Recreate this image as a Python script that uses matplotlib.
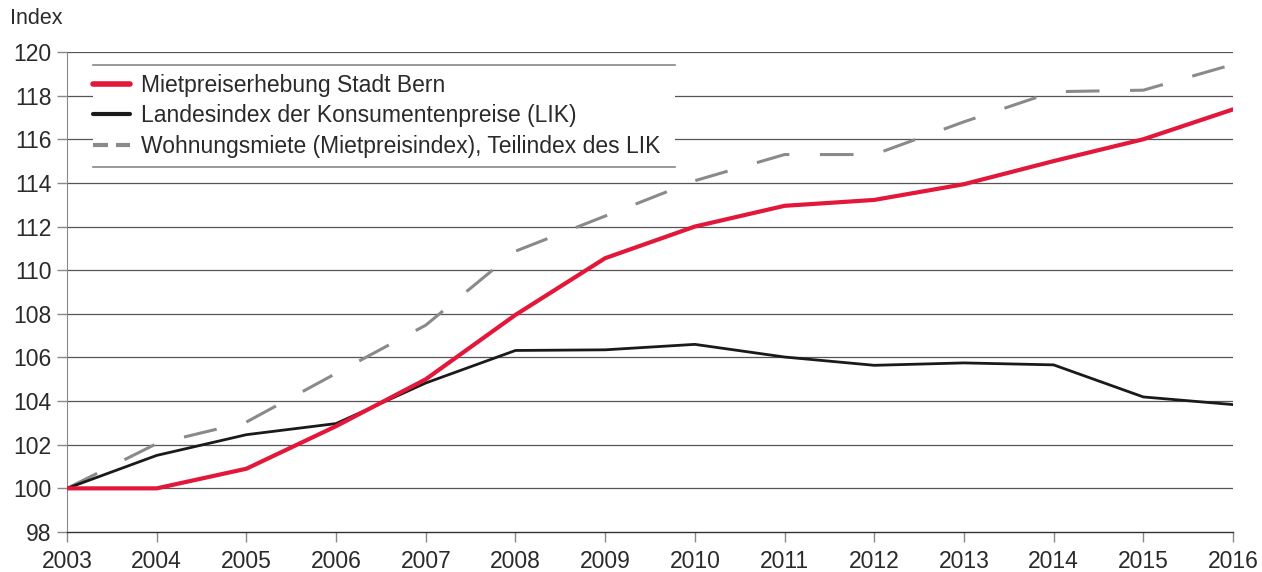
import matplotlib.pyplot as plt
from matplotlib.lines import Line2D
from matplotlib.patches import Rectangle

plt.rcParams['font.family'] = ['Liberation Sans', 'DejaVu Sans']

years = list(range(2003, 2017))
bern = [100.0, 100.0, 100.9, 102.85, 105.0, 107.95, 110.55, 112.0, 112.95, 113.22, 113.94, 115.0, 116.0, 117.37]
lik = [100.0, 101.51, 102.46, 102.97, 104.83, 106.32, 106.35, 106.6, 106.02, 105.64, 105.75, 105.66, 104.19, 103.84]
miete = [100.0, 102.05, 103.04, 105.27, 107.48, 110.87, 112.48, 114.1, 115.3, 115.3, 116.8, 118.18, 118.25, 119.43]
labels = ['Mietpreiserhebung Stadt Bern',
          'Landesindex der Konsumentenpreise (LIK)',
          'Wohnungsmiete (Mietpreisindex), Teilindex des LIK']
yticks = list(range(98, 121, 2))

red = '#e3173a'
grey = '#8a8a8a'
black = '#1a1a1a'
txt = '#2a2a2a'

fig = plt.figure(figsize=(12.62, 5.72), dpi=100)
ax = fig.add_axes([67 / 1262, 1 - 532 / 572, 1166 / 1262, 480 / 572])

ax.plot(years, miete, color=grey, lw=2.2, dashes=(11, 10), zorder=3)
ax.plot(years, lik, color=black, lw=2.0, zorder=4)
ax.plot(years, bern, color=red, lw=3.0, zorder=5, solid_capstyle='round')

ax.set_xlim(2003, 2016)
ax.set_ylim(98, 120)
ax.set_xticks(years)
ax.set_yticks(yticks)
ax.tick_params(axis='both', labelsize=16.5, colors='#888888', labelcolor=txt, length=7, width=1)
ax.tick_params(axis='x', pad=6)
ax.tick_params(axis='y', pad=4)

for v in yticks[1:]:
    ax.axhline(v, color='#555555', lw=0.9, zorder=1)

for s in ['top', 'right']:
    ax.spines[s].set_visible(False)
ax.spines['left'].set_color('#888888')
ax.spines['bottom'].set_color('#333333')
ax.spines['bottom'].set_linewidth(1.0)

# legend box
x0 = (93 - 67) / 1166
x1 = (675 - 67) / 1166
y0 = (532 - 167) / 480
y1 = (532 - 65) / 480
ax.add_patch(Rectangle((x0, y0), x1 - x0, y1 - y0, transform=ax.transAxes,
                       facecolor='white', edgecolor='none', zorder=6))
for yy in (y0, y1):
    ax.add_line(Line2D([x0, x1], [yy, yy], transform=ax.transAxes,
                       color='#888888', lw=1.2, zorder=7))

handles = [Line2D([], [], color=red, lw=4, solid_capstyle='round'),
           Line2D([], [], color=black, lw=3, solid_capstyle='round'),
           Line2D([], [], color=grey, lw=3, dashes=(3.6, 1.9))]
leg = ax.legend(handles, labels,
                loc='upper left', bbox_to_anchor=(x0, y1 - 0.019),
                frameon=False, fontsize=16.5, handlelength=1.6, handletextpad=0.5,
                labelspacing=0.32, borderaxespad=0, borderpad=0, labelcolor=txt)
leg.set_zorder(8)

fig.text(10 / 1262, 1 - 19 / 572, 'Index', fontsize=15.5, color=txt, va='center', ha='left')

fig.savefig('out.png', dpi=100)
